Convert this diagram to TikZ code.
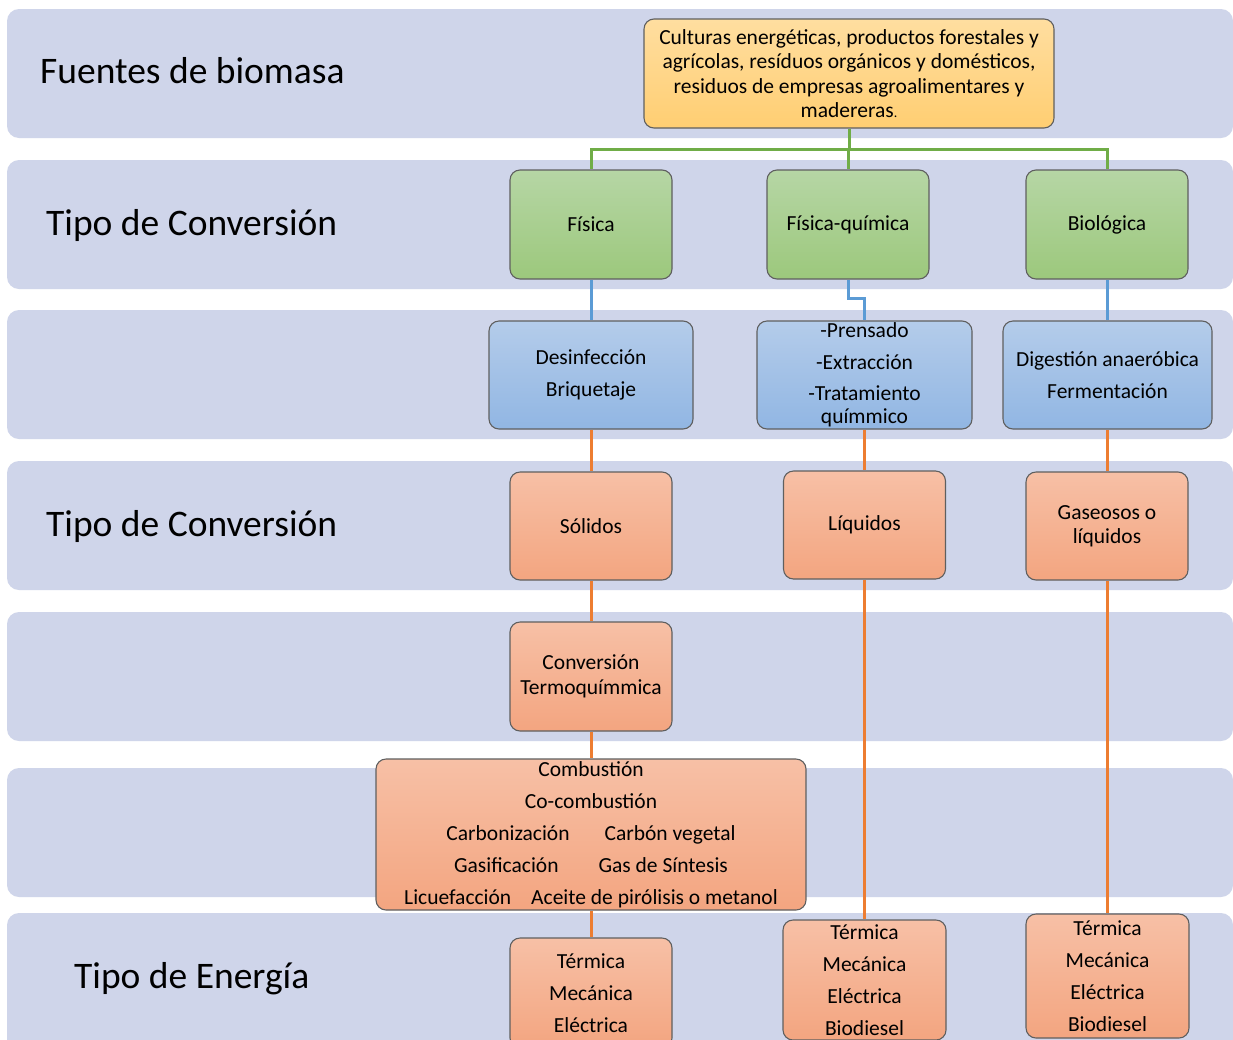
\documentclass[tikz,border=0pt]{standalone}
\usepackage{fontspec}
\setmainfont{Carlito}
\definecolor{bandc}{RGB}{207,213,234}
\definecolor{boxline}{RGB}{95,95,95}
\definecolor{y1}{RGB}{255,222,160}
\definecolor{y2}{RGB}{255,206,114}
\definecolor{g1}{RGB}{182,214,165}
\definecolor{g2}{RGB}{156,200,124}
\definecolor{b1}{RGB}{180,204,234}
\definecolor{b2}{RGB}{145,182,227}
\definecolor{o1}{RGB}{247,192,166}
\definecolor{o2}{RGB}{243,165,128}
\definecolor{gl}{RGB}{112,173,71}
\definecolor{bl}{RGB}{91,155,213}
\definecolor{ol}{RGB}{237,125,49}
\begin{document}
\begin{tikzpicture}[x=1pt,y=-1pt,
  band/.style={fill=bandc, rounded corners=12pt},
  box/.style={draw=boxline, line width=1.1pt, rounded corners=10pt, inner sep=0pt, align=center, text=black, font=\fontsize{21.5}{24.5}\selectfont},
  gbox/.style={box, top color=g1, bottom color=g2},
  bbox/.style={box, top color=b1, bottom color=b2},
  obox/.style={box, top color=o1, bottom color=o2},
  ybox/.style={box, top color=y1, bottom color=y2},
  big/.style={anchor=base west, inner sep=0pt, font=\fontsize{37.5}{40}\selectfont},
  gcon/.style={draw=gl, line width=3pt},
  bcon/.style={draw=bl, line width=3pt},
  ocon/.style={draw=ol, line width=3pt}
]
\clip (0,0) rectangle (1233,1039);
\fill[white] (0,0) rectangle (1233,1039);
% bands
\fill[band] (7,9) rectangle (1233,138);
\fill[band] (7,160) rectangle (1233,289);
\fill[band] (7,310) rectangle (1233,439);
\fill[band] (7,461) rectangle (1233,590);
\fill[band] (7,612) rectangle (1233,741);
\fill[band] (7,768) rectangle (1233,897);
\fill[band] (7,913) rectangle (1233,1060);
% band labels
\node[big] (l1) at (40,83) {Fuentes de biomasa};
\node[big] (l2) at (46,235) {Tipo de Conversión};
\node[big] (l3) at (46,536) {Tipo de Conversión};
\node[big] (l4) at (74,988) {Tipo de Energía};
% connectors (drawn first, boxes on top)
\coordinate (gj) at (849,149);
% nodes
\node[ybox, minimum width=410pt, minimum height=109pt] (top) at (849,73.5)
  {Culturas energéticas, productos forestales y\\agrícolas, resíduos orgánicos y domésticos,\\residuos de empresas agroalimentares y\\madereras{\fontsize{14}{14}\selectfont .}};
\node[gbox, minimum width=162pt, minimum height=109pt] (fis) at (591,224.5) {Física};
\node[gbox, minimum width=162pt, minimum height=109pt] (fq) at (848,224.5) {Física-química};
\node[gbox, minimum width=162pt, minimum height=109pt] (bio) at (1107,224.5) {Biológica};
\node[bbox, minimum width=204pt, minimum height=108pt] (des) at (591,375) {Desinfección\\[7pt]Briquetaje};
\node[bbox, minimum width=215pt, minimum height=108pt] (pr) at (864.5,375) {-Prensado\\[7pt]-Extracción\\[7pt]-Tratamiento\\[-2pt]químmico};
\node[bbox, minimum width=209pt, minimum height=108pt] (dig) at (1107.5,375) {Digestión anaeróbica\\[7pt]Fermentación};
\node[obox, minimum width=162pt, minimum height=108pt] (sol) at (591,526) {Sólidos};
\node[obox, minimum width=162pt, minimum height=108pt] (liq) at (864.5,525) {Líquidos};
\node[obox, minimum width=162pt, minimum height=108pt] (gas) at (1107,526) {Gaseosos o\\líquidos};
\node[obox, minimum width=162pt, minimum height=109pt] (conv) at (591,676.5) {Conversión\\Termoquímmica};
\node[obox, minimum width=430pt, minimum height=151pt] (comb) at (591,834.5)
  {Combustión\\[7.5pt]Co-combustión\\[7.5pt]Carbonización\hspace{35pt}Carbón vegetal\\[7.5pt]Gasificación\hspace{40pt}Gas de Síntesis\\[7.5pt]Licuefacción\hspace{20pt}Aceite de pirólisis o metanol};
\node[obox, minimum width=162pt, minimum height=110pt] (e1) at (591,993) {Térmica\\[7.5pt]Mecánica\\[7.5pt]Eléctrica};
\node[obox, minimum width=163pt, minimum height=120pt] (e2) at (864.5,980) {Térmica\\[7.5pt]Mecánica\\[7.5pt]Eléctrica\\[7.5pt]Biodiesel};
\node[obox, minimum width=163pt, minimum height=124pt] (e3) at (1107.5,976) {Térmica\\[7.5pt]Mecánica\\[7.5pt]Eléctrica\\[7.5pt]Biodiesel};
% connectors
\draw[gcon] (top.south) -- (gj);
\draw[gcon] (gj) -| (fis.north);
\draw[gcon] (gj) -| (bio.north);
\draw[gcon] (gj) -| (fq.north);
\draw[bcon] (fis.south) -- (des.north);
\draw[bcon] (fq.south) -- ++(0,19) -| (pr.north);
\draw[bcon] (bio.south) -- (bio.south |- dig.north);
\draw[ocon] (des.south) -- (sol.north);
\draw[ocon] (pr.south) -- (liq.north);
\draw[ocon] (dig.south -| gas.north) -- (gas.north);
\draw[ocon] (sol.south) -- (conv.north);
\draw[ocon] (conv.south) -- (comb.north);
\draw[ocon] (comb.south) -- (e1.north);
\draw[ocon] (liq.south) -- (e2.north);
\draw[ocon] (gas.south) -- (gas.south |- e3.north);
\end{tikzpicture}
\end{document}
